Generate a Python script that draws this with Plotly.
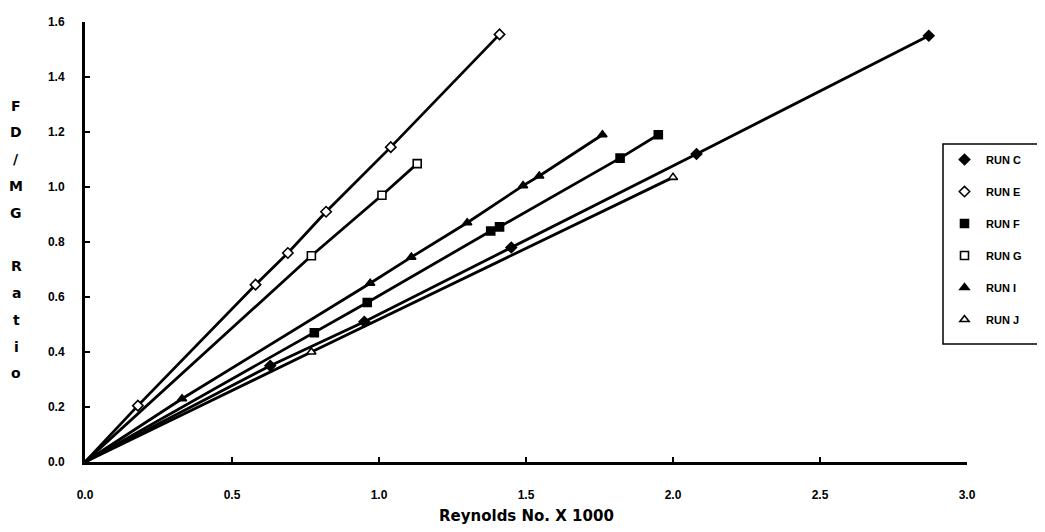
import plotly.graph_objects as go

# ---- data ----
run_c_x = [0.63, 0.95, 1.45, 2.08, 2.87]
run_c_y = [0.35, 0.51, 0.78, 1.12, 1.55]
run_e_x = [0.18, 0.58, 0.69, 0.82, 1.04, 1.41]
run_e_y = [0.205, 0.645, 0.76, 0.91, 1.145, 1.555]
run_f_x = [0.78, 0.96, 1.38, 1.41, 1.82, 1.95]
run_f_y = [0.47, 0.58, 0.84, 0.855, 1.105, 1.19]
run_g_x = [0.77, 1.01, 1.13]
run_g_y = [0.75, 0.97, 1.085]
run_i_x = [0.33, 0.97, 1.11, 1.30, 1.49, 1.545, 1.76]
run_i_y = [0.23, 0.65, 0.745, 0.87, 1.005, 1.04, 1.19]
run_j_x = [0.77, 2.00]
run_j_y = [0.40, 1.035]

series_names = ["RUN C", "RUN E", "RUN F", "RUN G", "RUN I", "RUN J"]
x_ticks = [0.0, 0.5, 1.0, 1.5, 2.0, 2.5, 3.0]
y_ticks = [0.0, 0.2, 0.4, 0.6, 0.8, 1.0, 1.2, 1.4, 1.6]
x_title = "Reynolds No. X 1000"
y_title = "FD/MG Ratio"

series = [
    (run_c_x, run_c_y, "diamond", "black"),
    (run_e_x, run_e_y, "diamond", "white"),
    (run_f_x, run_f_y, "square", "black"),
    (run_g_x, run_g_y, "square", "white"),
    (run_i_x, run_i_y, "triangle-up", "black"),
    (run_j_x, run_j_y, "triangle-up", "white"),
]

fig = go.Figure()
# lines from origin
for (xs, ys, sym, fill), name in zip(series, series_names):
    fig.add_trace(go.Scatter(
        x=[0.0] + xs, y=[0.0] + ys, mode="lines",
        line=dict(color="black", width=2.8),
        showlegend=False, hoverinfo="skip"))
# markers
for (xs, ys, sym, fill), name in zip(series, series_names):
    fig.add_trace(go.Scatter(
        x=xs, y=ys, mode="markers", name=name, legendgroup=name,
        marker=dict(symbol=sym, size=8, color=fill,
                    line=dict(color="black", width=1.6))))

OFF = 8  # page body margin
W, H = 1045, 532
L, T = 85 - OFF, 15 - OFF
plot_right = 967 - OFF
plot_bottom = 462 - OFF
R, B = W - plot_right, H - plot_bottom
pw, ph = W - L - R, H - T - B


def px(page_x):
    return (page_x - OFF - L) / pw


def py(page_y):
    return (plot_bottom - (page_y - OFF)) / ph


fnt = "Liberation Sans Narrow, Liberation Sans, Arial"

fig.update_layout(
    width=W, height=H,
    margin=dict(l=L, r=R, t=T, b=B),
    paper_bgcolor="white", plot_bgcolor="white",
    font=dict(family=fnt, color="black", size=12),
    showlegend=True,
    legend=dict(
        x=px(943), xanchor="left",
        y=py(140), yanchor="top",
        borderwidth=0, bgcolor="rgba(255,255,255,0)",
        font=dict(size=11, family=fnt, weight="bold"),
        tracegroupgap=13, traceorder="grouped",
        itemwidth=33,
    ),
    xaxis=dict(
        range=[0, 3.0], tickvals=x_ticks,
        ticktext=[f"{v:.1f}" for v in x_ticks],
        showgrid=False, zeroline=False,
        showline=True, linecolor="black", linewidth=3,
        ticks="inside", ticklen=5, tickwidth=2, tickcolor="black",
        ticklabelstandoff=20,
        tickfont=dict(size=12, family=fnt, weight="bold"),
    ),
    yaxis=dict(
        range=[0, 1.6], tickvals=y_ticks,
        ticktext=[f"{v:.1f}" for v in y_ticks],
        showgrid=False, zeroline=False,
        showline=True, linecolor="black", linewidth=3,
        ticks="inside", ticklen=5, tickwidth=2, tickcolor="black",
        ticklabelstandoff=15,
        tickfont=dict(size=12, family=fnt, weight="bold"),
    ),
)

# legend frame (runs off the right edge as in the reference)
fig.add_shape(
    type="rect", xref="paper", yref="paper",
    x0=px(943), x1=px(1060), y0=py(342), y1=py(139),
    line=dict(color="black", width=1.5), fillcolor="white", layer="below",
)

# x-axis title
fig.add_annotation(
    text=x_title, xref="paper", yref="paper",
    x=px(526), y=py(517),
    showarrow=False, xanchor="center", yanchor="middle",
    font=dict(family="DejaVu Sans", size=15, color="black", weight="bold"),
)

# y-axis title, stacked letters
letters = list("FD/MG") + [""] + list("Ratio")
for i, ch in enumerate(letters):
    if not ch:
        continue
    y_page = 100 + 27.2 * i
    fig.add_annotation(
        text=ch, xref="paper", yref="paper",
        x=px(16), y=py(y_page),
        showarrow=False, xanchor="center", yanchor="middle",
        font=dict(family="DejaVu Sans", size=14, color="black", weight="bold"),
    )

fig.write_html("out.html")
